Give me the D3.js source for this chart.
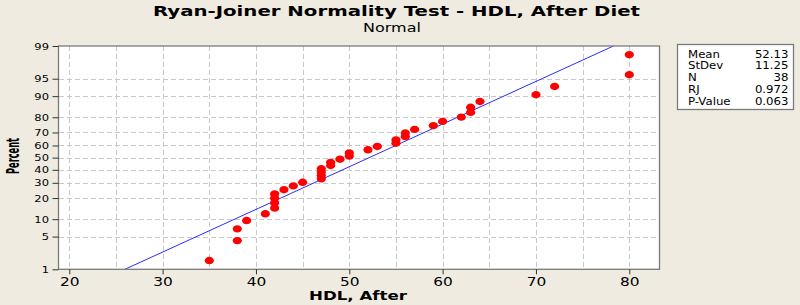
<!DOCTYPE html>
<html>
<head>
<meta charset="utf-8">
<script src="https://cdn.jsdelivr.net/npm/d3@7"></script>
<style>
  html, body { margin: 0; padding: 0; background: #EFEBE0; }
  svg { display: block; }
  text { font-family: "DejaVu Sans", Verdana, sans-serif; fill: #000; }
</style>
</head>
<body>
<svg id="chart" width="800" height="305"></svg>
<script>
// ---- data ----
const hdlAfter = [35, 38, 38, 39, 41, 42, 42, 42, 42, 43, 44, 45, 47, 47, 47, 47, 48, 48, 49, 50,
                  50, 52, 53, 55, 55, 56, 56, 57, 59, 60, 62, 63, 63, 64, 70, 72, 80, 80];
const percentPos = [1.6, 4.2, 6.9, 9.5, 12.1, 14.7, 17.3, 19.9, 22.5, 25.2, 27.8, 30.4, 33.0, 35.6,
                    38.2, 40.8, 43.5, 46.1, 48.7, 51.3, 53.9, 56.5, 59.2, 61.8, 64.4, 67.0, 69.6,
                    72.2, 74.8, 77.5, 80.1, 82.7, 85.3, 87.9, 90.5, 93.1, 95.8, 98.4];
const xTicks = [20, 30, 40, 50, 60, 70, 80];
const xGrid = [20, 25, 30, 35, 40, 45, 50, 55, 60, 65, 70, 75, 80];
const yTicks = [1, 5, 10, 20, 30, 40, 50, 60, 70, 80, 90, 95, 99];
const yGrid = [5, 10, 20, 30, 40, 50, 60, 70, 80, 90, 95];
const statLabels = ["Mean", "StDev", "N", "RJ", "P-Value"];
const statValues = ["52.13", "11.25", "38", "0.972", "0.063"];
const fitMean = 52.13, fitSd = 11.25;
const fitEnds = [1, 99];

// ---- helpers ----
function probit(p) {
  const a=[-3.969683028665376e+01,2.209460984245205e+02,-2.759285104469687e+02,1.383577518672690e+02,-3.066479806614716e+01,2.506628277459239e+00];
  const b=[-5.447609879822406e+01,1.615858368580409e+02,-1.556989798598866e+02,6.680131188771972e+01,-1.328068155288572e+01];
  const c=[-7.784894002430293e-03,-3.223964580411365e-01,-2.400758277161838e+00,-2.549732539343734e+00,4.374664141464968e+00,2.938163982698783e+00];
  const d=[7.784695709041462e-03,3.224671290700398e-01,2.445134137142996e+00,3.754408661907416e+00];
  const pl = 0.02425, ph = 1 - pl;
  let q, r;
  if (p < pl) { q = Math.sqrt(-2*Math.log(p)); return (((((c[0]*q+c[1])*q+c[2])*q+c[3])*q+c[4])*q+c[5])/((((d[0]*q+d[1])*q+d[2])*q+d[3])*q+1); }
  if (p <= ph) { q = p - 0.5; r = q*q; return (((((a[0]*r+a[1])*r+a[2])*r+a[3])*r+a[4])*r+a[5])*q/(((((b[0]*r+b[1])*r+b[2])*r+b[3])*r+b[4])*r+1); }
  q = Math.sqrt(-2*Math.log(1-p)); return -(((((c[0]*q+c[1])*q+c[2])*q+c[3])*q+c[4])*q+c[5])/((((d[0]*q+d[1])*q+d[2])*q+d[3])*q+1);
}

// ---- layout ----
const L = 58.5, R = 659.5, T = 46, B = 269.3;
const svg = d3.select("#chart");

const x = d3.scaleLinear().domain([20, 80]).range([69.3, 629.3]);
const yz = d3.scaleLinear().domain([probit(0.01), probit(0.99)]).range([B, T]);
const y = p => yz(probit(p / 100));

// plot background
svg.append("rect").attr("x", L).attr("y", T).attr("width", R - L).attr("height", B - T)
  .attr("fill", "#fff");

// grid
const grid = svg.append("g").attr("stroke", "#C9C9C9").attr("stroke-width", 1)
  .attr("stroke-dasharray", "5,3").attr("shape-rendering", "crispEdges");
grid.selectAll("line.v").data(xGrid).join("line").attr("class", "v")
  .attr("x1", d => Math.round(x(d)) + 0.5).attr("x2", d => Math.round(x(d)) + 0.5)
  .attr("y1", T).attr("y2", B);
grid.selectAll("line.h").data(yGrid).join("line").attr("class", "h")
  .attr("y1", d => Math.round(y(d)) + 0.5).attr("y2", d => Math.round(y(d)) + 0.5)
  .attr("x1", L).attr("x2", R);

// fit line
svg.append("clipPath").attr("id", "pc").append("rect")
  .attr("x", L).attr("y", T).attr("width", R - L).attr("height", B - T);
svg.append("path")
  .datum(fitEnds)
  .attr("clip-path", "url(#pc)")
  .attr("fill", "none").attr("stroke", "#2B2BFF").attr("stroke-width", 1)
  .attr("d", d3.line().x(p => x(fitMean + fitSd * probit(p / 100))).y(p => y(p)));

// points
svg.append("g").attr("fill", "#FF0000")
  .selectAll("ellipse").data(hdlAfter).join("ellipse")
  .attr("cx", d => x(d)).attr("cy", (d, i) => y(percentPos[i]))
  .attr("rx", 4.6).attr("ry", 3.7);

// frame
svg.append("rect").attr("x", L).attr("y", T).attr("width", R - L).attr("height", B - T)
  .attr("fill", "none").attr("stroke", "#7A7A7A").attr("stroke-width", 1.3);

// axes
const xAxis = svg.append("g").attr("transform", `translate(0,${B})`)
  .call(d3.axisBottom(x).tickValues(xTicks).tickSize(5).tickSizeOuter(0).tickPadding(4));
xAxis.select(".domain").remove();
xAxis.selectAll(".tick line").attr("stroke", "#333");
xAxis.selectAll(".tick text")
  .attr("font-size", 12).attr("font-family", "DejaVu Sans, Verdana, sans-serif")
  .attr("y", 0).attr("dy", 0)
  .attr("transform", "translate(0,16.5) scale(1.28,1)");

const yAxis = svg.append("g").attr("transform", `translate(${L},0)`)
  .call(d3.axisLeft(yz).tickValues(yTicks.map(p => probit(p / 100)))
    .tickFormat((d, i) => yTicks[i]).tickSize(6).tickSizeOuter(0).tickPadding(3));
yAxis.select(".domain").remove();
yAxis.selectAll(".tick line").attr("stroke", "#333");
yAxis.selectAll(".tick text")
  .attr("font-size", 9).attr("font-family", "DejaVu Sans, Verdana, sans-serif")
  .attr("x", 0).attr("dy", "0.35em")
  .attr("transform", "translate(-9.5,0) scale(1.28,1)");

// titles
svg.append("text").attr("x", 396.5).attr("y", 16).attr("text-anchor", "middle")
  .attr("font-size", 14.5).attr("font-weight", "bold")
  .attr("textLength", 487).attr("lengthAdjust", "spacingAndGlyphs")
  .text("Ryan-Joiner Normality Test - HDL, After Diet");
svg.append("text").attr("x", 392).attr("y", 31.5).attr("text-anchor", "middle")
  .attr("font-size", 11.5)
  .attr("textLength", 58).attr("lengthAdjust", "spacingAndGlyphs")
  .text("Normal");
svg.append("text").attr("x", 358).attr("y", 299.5).attr("text-anchor", "middle")
  .attr("font-size", 12.5).attr("font-weight", "bold")
  .attr("textLength", 98).attr("lengthAdjust", "spacingAndGlyphs")
  .text("HDL, After");
svg.append("text").attr("transform", "translate(18.5,156) rotate(-90)").attr("text-anchor", "middle")
  .attr("font-family", "Liberation Sans Narrow, Arial Narrow, Liberation Sans, sans-serif")
  .attr("font-size", 18).attr("font-weight", "bold")
  .attr("textLength", 36).attr("lengthAdjust", "spacingAndGlyphs")
  .text("Percent");

// stats box
const box = svg.append("g");
box.append("rect").attr("x", 677.5).attr("y", 44.5).attr("width", 116).attr("height", 65)
  .attr("fill", "#fff").attr("stroke", "#7A7A7A").attr("stroke-width", 1.3);
const rowY = d3.scalePoint().domain(statLabels).range([57.5, 105]);
box.selectAll("text.lab").data(statLabels).join("text").attr("class", "lab")
  .attr("font-size", 10.5)
  .attr("transform", d => `translate(688,${rowY(d)}) scale(1.12,1)`)
  .text(d => d);
box.selectAll("text.val").data(statValues).join("text").attr("class", "val")
  .attr("font-size", 10.5).attr("text-anchor", "end")
  .attr("transform", (d, i) => `translate(788.5,${rowY(statLabels[i])}) scale(1.12,1)`)
  .text(d => d);
</script>
</body>
</html>
